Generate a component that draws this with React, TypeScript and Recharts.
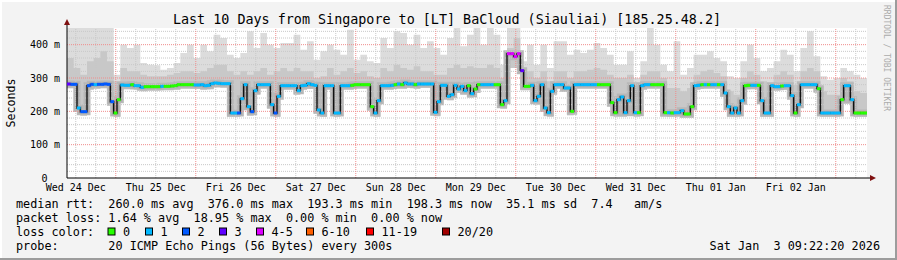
import React from "react";
import {
  ComposedChart,
  Area,
  Line,
  XAxis,
  YAxis,
  CartesianGrid,
  ReferenceLine,
} from "recharts";

const W = 897;
const H = 260;
const MONO = "'DejaVu Sans Mono', monospace";

// hours counted from Wed 24 Dec 00:00
const START = 9.37;
const END = 249.37;
const STEP_PX = 800 / 240;

const dayTicks = [12, 36, 60, 84, 108, 132, 156, 180, 204, 228];
const dayLabels = [
  "Wed 24 Dec", "Thu 25 Dec", "Fri 26 Dec", "Sat 27 Dec", "Sun 28 Dec",
  "Mon 29 Dec", "Tue 30 Dec", "Wed 31 Dec", "Thu 01 Jan", "Fri 02 Jan",
];
const midnights = [24, 48, 72, 96, 120, 144, 168, 192, 216, 240];
const yTicks = [0, 100, 200, 300, 400];
const yLabels = ["0", "100 m", "200 m", "300 m", "400 m"];

// hourly median rtt (ms)
const medianRtt = [
  282, 281, 281, 210, 199, 199, 277, 281, 280, 281, 281, 282, 281, 229, 195, 235, 279, 278, 278, 280, 277, 277, 272, 274,
  274, 274, 274, 274, 275, 275, 275, 276, 277, 280, 280, 280, 280, 280, 279, 279, 280, 277, 278, 283, 285, 284, 283, 283,
  283, 195, 195, 195, 238, 280, 214, 199, 262, 280, 280, 280, 280, 220, 195, 245, 277, 277, 277, 277, 277, 262, 277, 278,
  283, 280, 278, 204, 195, 277, 277, 277, 195, 195, 277, 277, 277, 278, 280, 280, 280, 280, 280, 214, 195, 232, 277, 277,
  277, 278, 280, 282, 280, 285, 282, 282, 280, 282, 282, 282, 282, 282, 197, 229, 278, 278, 245, 250, 278, 267, 275, 262,
  277, 253, 267, 280, 280, 280, 280, 280, 280, 280, 220, 232, 373, 373, 364, 373, 322, 275, 275, 278, 232, 245, 280, 210,
  196, 260, 280, 280, 280, 270, 270, 200, 280, 280, 280, 280, 280, 280, 280, 280, 280, 280, 280, 226, 196, 235, 243, 196,
  232, 277, 196, 196, 277, 280, 280, 280, 280, 280, 280, 196, 196, 195, 196, 196, 202, 192, 192, 214, 277, 278, 280, 280,
  280, 280, 280, 280, 280, 255, 214, 195, 210, 195, 232, 277, 278, 278, 278, 278, 232, 195, 195, 277, 274, 274, 276, 277,
  277, 247, 195, 220, 280, 280, 280, 280, 280, 268, 195, 195, 195, 195, 195, 195, 235, 277, 277, 235, 195, 195, 195, 195,
];

// hourly loss bucket (index into lossColors)
const lossBucket = [
  3, 2, 2, 1, 2, 2, 2, 2, 1, 2, 2, 2, 2, 2, 0, 0, 1, 1, 1, 0, 1, 1, 1, 0,
  0, 0, 0, 0, 1, 0, 0, 0, 0, 0, 0, 0, 0, 0, 1, 1, 1, 1, 1, 1, 1, 1, 1, 1,
  1, 1, 1, 2, 1, 1, 1, 2, 1, 1, 1, 1, 1, 1, 2, 1, 1, 1, 1, 1, 1, 1, 1, 1,
  1, 1, 1, 1, 1, 1, 1, 1, 1, 1, 1, 1, 1, 0, 0, 0, 0, 0, 0, 0, 1, 1, 1, 1,
  1, 1, 0, 1, 0, 1, 1, 1, 0, 1, 1, 1, 1, 1, 1, 1, 1, 1, 1, 1, 1, 1, 1, 1,
  0, 1, 0, 0, 1, 1, 1, 1, 0, 0, 0, 1, 4, 4, 4, 4, 3, 0, 0, 1, 1, 1, 1, 1,
  1, 1, 1, 1, 1, 1, 1, 0, 1, 1, 1, 1, 1, 1, 1, 0, 0, 0, 0, 0, 0, 1, 1, 1,
  1, 1, 1, 0, 1, 1, 1, 0, 0, 0, 0, 0, 1, 0, 1, 1, 1, 0, 0, 0, 1, 1, 0, 1,
  0, 1, 1, 0, 1, 1, 1, 1, 1, 1, 1, 0, 0, 1, 1, 0, 1, 1, 1, 1, 1, 1, 0, 1,
  1, 1, 0, 1, 1, 1, 1, 1, 1, 0, 1, 1, 1, 1, 1, 1, 0, 1, 1, 1, 0, 0, 0, 0,
];

// smoke, two-hour blocks
const smokeMax = [
  450, 450, 450, 450, 450, 450, 450, 310, 400, 390, 400, 345, 340, 338, 325, 330, 345, 375, 400, 360,
  400, 380, 430, 420, 370, 360, 375, 440, 390, 435, 400, 390, 405, 405, 430, 385, 410, 355, 380, 400,
  385, 370, 445, 355, 370, 350, 345, 420, 390, 440, 435, 400, 430, 390, 410, 390, 370, 420, 450, 395,
  430, 450, 400, 450, 430, 340, 450, 450, 350, 400, 340, 400, 330, 410, 410, 370, 385, 375, 385, 405,
  390, 370, 340, 340, 380, 300, 350, 450, 400, 340, 320, 410, 310, 330, 370, 370, 380, 360, 350, 305,
  300, 350, 400, 360, 320, 330, 350, 385, 370, 320, 390, 440, 365, 305, 295, 300, 330, 320, 310, 300,
];
const smokeMid = [
  360, 330, 310, 350, 360, 380, 350, 290, 330, 320, 320, 310, 305, 305, 305, 310, 315, 320, 320, 315,
  320, 330, 340, 340, 320, 310, 320, 310, 320, 330, 310, 320, 330, 320, 330, 320, 320, 300, 305, 330,
  310, 320, 330, 315, 320, 305, 300, 330, 320, 340, 330, 325, 335, 320, 320, 310, 310, 330, 340, 330,
  335, 330, 330, 340, 330, 300, 390, 420, 320, 320, 300, 320, 290, 320, 320, 300, 320, 320, 325, 330,
  325, 310, 300, 300, 310, 280, 310, 320, 320, 300, 270, 270, 260, 270, 310, 320, 325, 315, 305, 260,
  250, 300, 320, 310, 290, 280, 310, 320, 310, 280, 320, 330, 320, 260, 250, 250, 300, 290, 260, 255,
];
const smokeMin = [
  269, 198, 187, 265, 268, 269, 217, 183, 266, 266, 265, 260, 262, 262, 263, 263, 265, 268, 268, 267,
  265, 266, 272, 271, 183, 183, 226, 187, 250, 268, 208, 183, 265, 265, 250, 265, 268, 192, 183, 265,
  183, 265, 265, 268, 268, 202, 183, 265, 265, 268, 268, 270, 268, 270, 270, 185, 266, 233, 255, 250,
  241, 255, 268, 268, 268, 208, 330, 330, 263, 263, 220, 198, 184, 268, 258, 188, 268, 268, 268, 268,
  268, 214, 184, 184, 220, 184, 265, 268, 268, 184, 183, 184, 180, 180, 265, 268, 268, 268, 243, 183,
  183, 220, 266, 266, 183, 183, 262, 264, 235, 183, 268, 268, 256, 183, 183, 183, 223, 223, 183, 183,
];

const lossColors = ["#26ff00", "#00b8ff", "#0059ff", "#5e00ff", "#dd00ff", "#ff5e00", "#ff0000", "#a10000"];
const lossLabels = ["0", "1", "2", "3", "4-5", "6-10", "11-19", "20/20"];
const lossBoxX = [108, 145.5, 182.5, 219.5, 256.5, 306.5, 366.5, 442.5];

const legendLines = [
  "median rtt:  260.0 ms avg  376.0 ms max  193.3 ms min  198.3 ms now  35.1 ms sd  7.4   am/s",
  "packet loss: 1.64 % avg  18.95 % max  0.00 % min  0.00 % now",
  "loss color:",
  "probe:       20 ICMP Echo Pings (56 Bytes) every 300s",
];

const rows: any[] = medianRtt.map((m, i) => {
  const j = Math.floor(i / 2);
  return {
    t: START + i,
    med: m,
    loss: lossBucket[i],
    band: [smokeMin[j], smokeMax[j]],
    mid: [smokeMin[j], smokeMid[j]],
  };
});
rows.push({ ...rows[rows.length - 1], t: END, loss: null });

const minorX: number[] = [];
for (let h = 12; h < END; h += 6) if (!midnights.includes(h)) minorX.push(h);
const minorY: number[] = [];
for (let v = 20; v < 450; v += 20) if (v % 100 !== 0) minorY.push(v);

const DayTick = ({ x, y, payload }: any) => (
  <text x={x} y={y + 13} textAnchor="middle" fontFamily={MONO} fontSize={10} fill="#000">
    {dayLabels[dayTicks.indexOf(payload.value)]}
  </text>
);

const ValueTick = ({ x, y, payload }: any) => {
  const k = yTicks.indexOf(payload.value);
  return (
    <text x={payload.value === 0 ? x - 19.5 : x - 7} y={y + 3.5} textAnchor="end" fontFamily={MONO} fontSize={10} fill="#000">
      {yLabels[k]}
    </text>
  );
};

const LossDot = (props: any) => {
  const { cx, cy, index, payload } = props;
  if (payload.loss === null || payload.loss === undefined) return <g key={`d${index}`} />;
  return (
    <rect
      key={`d${index}`}
      x={cx}
      y={cy - 1.5}
      width={STEP_PX + 0.3}
      height={3}
      fill={lossColors[payload.loss]}
    />
  );
};

export default function App() {
  return (
    <div style={{ position: "absolute", left: 0, top: 0, width: W, height: H, background: "#f3f3f3", overflow: "hidden" }}>
      <ComposedChart width={W} height={H} data={rows} margin={{ top: 28, right: 30, bottom: 0, left: 0 }}>
        <CartesianGrid horizontal={false} vertical={false} fill="#ffffff" />
        <XAxis
          dataKey="t"
          type="number"
          domain={[START, END]}
          ticks={dayTicks}
          tick={<DayTick />}
          tickLine={false}
          tickSize={0}
          tickMargin={0}
          height={82}
          axisLine={{ stroke: "#000" }}
          allowDataOverflow
        />
        <YAxis
          type="number"
          domain={[0, 450]}
          ticks={yTicks}
          tick={<ValueTick />}
          tickLine={false}
          tickSize={0}
          tickMargin={0}
          width={67}
          axisLine={{ stroke: "#000" }}
          allowDataOverflow
        />
        <Area dataKey="band" type="stepAfter" stroke="none" fill="#dcdcdc" fillOpacity={1} isAnimationActive={false} />
        <Area dataKey="mid" type="stepAfter" stroke="none" fill="#c8c8c8" fillOpacity={1} isAnimationActive={false} />
        <Line dataKey="med" type="stepAfter" stroke="#b8b8b8" strokeWidth={7} dot={false} activeDot={false} isAnimationActive={false} />
        <Line dataKey="med" type="stepAfter" stroke="#9a9a9a" strokeWidth={3} dot={false} activeDot={false} isAnimationActive={false} />
        {minorY.map((v) => (
          <ReferenceLine key={`my${v}`} y={v} stroke="#c8c8c8" strokeDasharray="1 1" />
        ))}
        {minorX.map((h) => (
          <ReferenceLine key={`mx${h}`} x={h} stroke="#c8c8c8" strokeDasharray="1 1" />
        ))}
        {[100, 200, 300, 400].map((v) => (
          <ReferenceLine key={`Y${v}`} y={v} stroke="#f08c8c" strokeDasharray="1 1" />
        ))}
        {midnights.map((h) => (
          <ReferenceLine key={`X${h}`} x={h} stroke="#f08c8c" strokeDasharray="1 1" />
        ))}
        <Line dataKey="med" type="stepAfter" stroke="#111" strokeWidth={1.3} dot={false} activeDot={false} isAnimationActive={false} />
        <Line dataKey="med" type="stepAfter" stroke="none" dot={LossDot} activeDot={false} isAnimationActive={false} />
      </ComposedChart>

      <svg width={W} height={H} style={{ position: "absolute", left: 0, top: 0, pointerEvents: "none" }}>
        <line x1={0} y1={1} x2={W} y2={1} stroke="#ffffff" strokeWidth={2} />
        <line x1={1} y1={0} x2={1} y2={H} stroke="#ffffff" strokeWidth={2} />
        <line x1={0} y1={H - 1} x2={W} y2={H - 1} stroke="#9c9c9c" strokeWidth={2} />
        <line x1={W - 1} y1={0} x2={W - 1} y2={H} stroke="#9c9c9c" strokeWidth={2} />
        <line x1={67} y1={28} x2={67} y2={24} stroke="#000" />
        <polygon points="64,25 70,25 67,19" fill="#7f1010" />
        <line x1={867} y1={178} x2={871} y2={178} stroke="#000" />
        <polygon points="870,175 870,181 876,178" fill="#7f1010" />
        <text x={447} y={23.5} textAnchor="middle" fontFamily={MONO} fontSize={13.4} fill="#000">
          Last 10 Days from Singapore to [LT] BaCloud (Siauliai) [185.25.48.2]
        </text>
        <text transform="translate(15,103) rotate(-90)" textAnchor="middle" fontFamily={MONO} fontSize={11.6} fill="#000">
          Seconds
        </text>
        <text transform="translate(883.5,5) rotate(90)" fontFamily={MONO} fontSize={8} fill="#ababab">
          RRDTOOL / TOBI OETIKER
        </text>
        {lossColors.map((c, k) => (
          <g key={c}>
            <rect x={lossBoxX[k]} y={228} width={7} height={7} fill={c} stroke="#000" strokeWidth={1} />
            <text x={lossBoxX[k] + 15} y={236} fontFamily={MONO} fontSize={11.8} fill="#000">
              {lossLabels[k]}
            </text>
          </g>
        ))}
      </svg>

      {legendLines.map((s, k) => (
        <div
          key={k}
          style={{
            position: "absolute",
            left: 16,
            top: 197 + k * 14,
            height: 14,
            lineHeight: "14px",
            fontFamily: MONO,
            fontSize: 11.8,
            whiteSpace: "pre",
            color: "#000",
          }}
        >
          {s}
        </div>
      ))}
      <div
        style={{
          position: "absolute",
          right: 17,
          top: 239,
          lineHeight: "14px",
          fontFamily: MONO,
          fontSize: 11.8,
          whiteSpace: "pre",
          color: "#000",
        }}
      >
        Sat Jan  3 09:22:20 2026
      </div>
    </div>
  );
}
